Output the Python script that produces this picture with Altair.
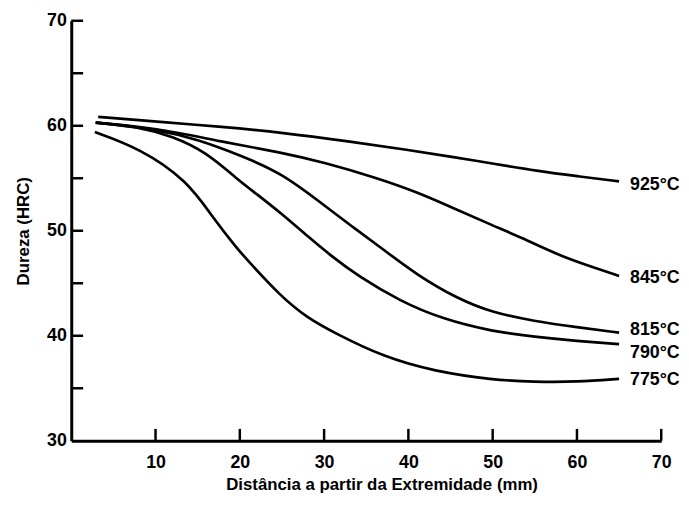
import altair as alt
import pandas as pd

# ---- data ----
temps = ["925°C", "845°C", "815°C", "790°C", "775°C"]

x_925 = [3.2, 10, 18, 25, 33, 40, 45.5, 50, 55.3, 60, 65]
y_925 = [60.85, 60.4, 59.9, 59.35, 58.5, 57.7, 57.0, 56.4, 55.7, 55.2, 54.7]

x_845 = [2.9, 10, 17.7, 25, 30, 36, 41, 45.5, 50, 53.3, 58, 62, 65]
y_845 = [60.3, 59.8, 58.5, 57.45, 56.5, 55.1, 53.7, 52.1, 50.5, 49.4, 47.6, 46.5, 45.7]

x_815 = [2.9, 10, 15, 20, 25, 30.2, 33.5, 36.9, 41, 45.9, 50, 54.9, 60, 65]
y_815 = [60.3, 59.7, 58.7, 57.2, 55.5, 52.3, 50.3, 48.3, 45.8, 43.5, 42.2, 41.4, 40.8, 40.3]

x_790 = [2.9, 8, 12, 16, 19.7, 22, 25, 28, 31, 34, 39, 44, 50, 55, 60, 65]
y_790 = [60.3, 59.9, 59.0, 57.5, 54.9, 53.5, 51.6, 49.5, 47.5, 45.7, 43.3, 41.6, 40.4, 39.9, 39.5, 39.2]

x_775 = [2.8, 8, 13.8, 17, 19.7, 20.9, 24.8, 28, 31.4, 37, 43.1, 50, 54.9, 60, 65]
y_775 = [59.4, 57.9, 54.8, 51.0, 48.3, 47.2, 43.8, 41.7, 40.2, 38.0, 36.6, 35.8, 35.6, 35.6, 35.9]

label_x = [66.3, 66.3, 66.3, 66.3, 66.3]
label_y = [54.4, 45.5, 40.5, 38.4, 35.8]

x_tick_values = [10, 20, 30, 40, 50, 60, 70]
y_label_values = [30, 40, 50, 60, 70]
y_tick_values = [35, 40, 45, 50, 55, 60, 65, 70]

# ---- build tables ----
series = [(temps[0], x_925, y_925), (temps[1], x_845, y_845), (temps[2], x_815, y_815),
          (temps[3], x_790, y_790), (temps[4], x_775, y_775)]
rows = []
for name, xs, ys in series:
    for i, (a, b) in enumerate(zip(xs, ys)):
        rows.append({"temp": name, "d": a, "h": b, "i": i})
df = pd.DataFrame(rows)
labels_df = pd.DataFrame({"temp": temps, "d": label_x, "h": label_y})
xt_df = pd.DataFrame({"v": x_tick_values})
yt_df = pd.DataFrame({"v": y_tick_values})

W, H = 597, 425
FONT = "Liberation Sans"

xscale = alt.Scale(domain=[0, 70], nice=False, zero=False)
yscale = alt.Scale(domain=[30, 70], nice=False, zero=False)

xaxis = alt.Axis(values=x_tick_values, title="Distância a partir da Extremidade (mm)",
                 tickSize=0, grid=False, domainWidth=3, domainColor="black",
                 labelFont=FONT, labelFontSize=18, labelFontWeight="bold", labelColor="black",
                 labelPadding=13, titleFont=FONT, titleFontSize=17, titleFontWeight="bold",
                 titleColor="black", titlePadding=5, titleX=314, labelFlush=False)
yaxis = alt.Axis(values=y_label_values, title="Dureza (HRC)",
                 tickSize=0, grid=False, domainWidth=3, domainColor="black",
                 labelFont=FONT, labelFontSize=18, labelFontWeight="bold", labelColor="black",
                 labelPadding=5, titleFont=FONT, titleFontSize=17, titleFontWeight="bold",
                 titleColor="black", titlePadding=14, labelFlush=False)

lines = alt.Chart(df).mark_line(color="black", strokeWidth=2.7, interpolate="basis").encode(
    x=alt.X("d:Q", scale=xscale, axis=xaxis),
    y=alt.Y("h:Q", scale=yscale, axis=yaxis),
    detail="temp:N",
    order="i:Q",
)

xticks = alt.Chart(xt_df).mark_rule(color="black", strokeWidth=2.5).encode(
    x=alt.X("v:Q", scale=xscale),
    y=alt.value(H),
    y2=alt.value(H - 12),
)
yticks = alt.Chart(yt_df).mark_rule(color="black", strokeWidth=2.5).encode(
    y=alt.Y("v:Q", scale=yscale),
    x=alt.value(0),
    x2=alt.value(12),
)

texts = alt.Chart(labels_df).mark_text(align="left", baseline="middle", font=FONT,
                                       fontSize=18, fontWeight="bold", color="black").encode(
    x=alt.X("d:Q", scale=xscale),
    y=alt.Y("h:Q", scale=yscale),
    text="temp:N",
)

chart = alt.layer(lines, xticks, yticks, texts).properties(
    width=W, height=H,
    padding={"left": 64, "top": 10, "right": 20, "bottom": 55},
    autosize=alt.AutoSizeParams(type="none"),
    background="white",
).configure_view(stroke=None)

chart.save("out.html", embed_options={"renderer": "svg", "actions": False})
